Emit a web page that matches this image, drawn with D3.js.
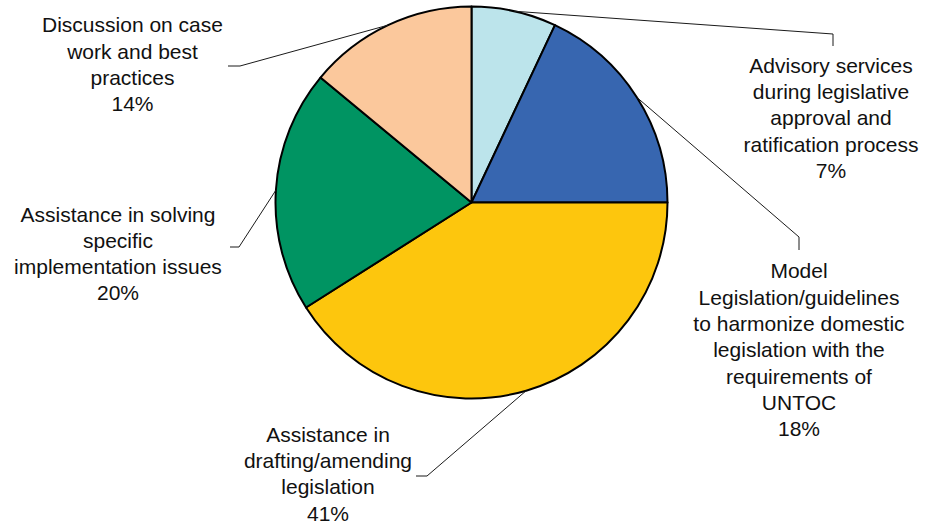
<!DOCTYPE html>
<html>
<head>
<meta charset="utf-8">
<script src="https://cdn.jsdelivr.net/npm/d3@7/dist/d3.min.js"></script>
<style>
  html, body { margin: 0; padding: 0; background: #ffffff; }
  svg { display: block; }
  text { font-family: "Liberation Sans", Arial, sans-serif; fill: #111111; }
</style>
</head>
<body>
<svg id="chart" width="929" height="529"></svg>
<script>
// ---- Data ----
const categories = [
  "Advisory services during legislative approval and ratification process",
  "Model Legislation/guidelines to harmonize domestic legislation with the requirements of UNTOC",
  "Assistance in drafting/amending legislation",
  "Assistance in solving specific implementation issues",
  "Discussion on case work and best practices"
];
const labelLines = [
  ["Advisory services", "during legislative", "approval and", "ratification process"],
  ["Model", "Legislation/guidelines", "to harmonize domestic", "legislation with the", "requirements of", "UNTOC"],
  ["Assistance in", "drafting/amending", "legislation"],
  ["Assistance in solving", "specific", "implementation issues"],
  ["Discussion on case", "work and best", "practices"]
];
const values = [7, 18, 41, 20, 14];
const colors = ["#bce4eb", "#3766b0", "#fdc60d", "#009462", "#fbc89c"];

// ---- Layout (positions only) ----
const cx = 471.5, cy = 202.5, R = 196;
const fontSize = 21, lineH = 26.3;
// label block: center x, first baseline y; leader elbow + end
const labelLayout = [
  { x: 831, y: 72.7, elbow: [833, 34], end: [833, 46] },
  { x: 799, y: 278.3, elbow: [799, 237], end: [799, 250] },
  { x: 328, y: 441.7, elbow: [427, 476], end: [416, 476] },
  { x: 118, y: 221.5, elbow: [239, 247], end: [230, 247] },
  { x: 132.5, y: 32.3, elbow: [240, 66], end: [228, 66] }
];

const svg = d3.select("#chart");
const g = svg.append("g").attr("transform", `translate(${cx},${cy})`);

const pie = d3.pie().sort(null).value(d => d)(values);
const arc = d3.arc().innerRadius(0).outerRadius(R);

g.selectAll("path.slice")
  .data(pie)
  .join("path")
  .attr("class", "slice")
  .attr("d", arc)
  .attr("fill", (d, i) => colors[i])
  .attr("stroke", "#000")
  .attr("stroke-width", 2)
  .attr("stroke-linejoin", "round");

// leader lines
const total = d3.sum(values);
pie.forEach((d, i) => {
  const a = (d.startAngle + d.endAngle) / 2;
  const sx = cx + R * Math.sin(a), sy = cy - R * Math.cos(a);
  const L = labelLayout[i];
  svg.append("polyline")
    .attr("points", [[sx, sy], L.elbow, L.end].map(p => p.join(",")).join(" "))
    .attr("fill", "none")
    .attr("stroke", "#1a1a1a")
    .attr("stroke-width", 1);
});

// labels
pie.forEach((d, i) => {
  const L = labelLayout[i];
  const lines = labelLines[i].concat([d3.format(".0%")(values[i] / total)]);
  const t = svg.append("text")
    .attr("text-anchor", "middle")
    .attr("font-size", fontSize + "px");
  lines.forEach((ln, k) => {
    t.append("tspan").attr("x", L.x).attr("y", L.y + k * lineH).text(ln);
  });
});
</script>
</body>
</html>
